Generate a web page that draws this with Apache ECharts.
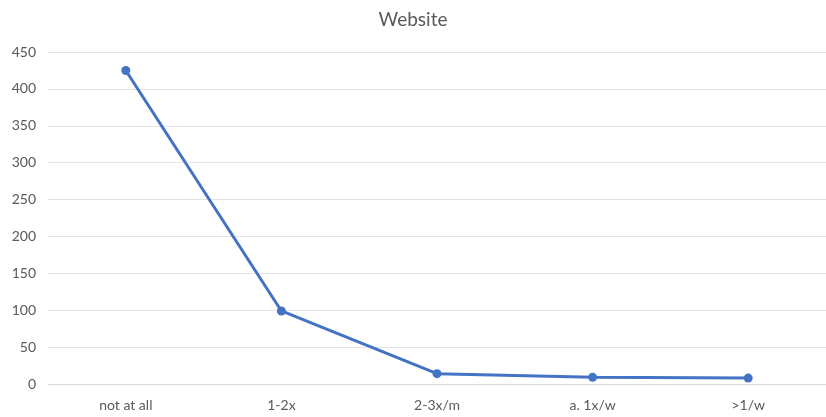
<!DOCTYPE html>
<html>
<head>
<meta charset="utf-8">
<script src="https://cdn.jsdelivr.net/npm/echarts@6/dist/echarts.min.js"></script>
<style>
  html, body { margin: 0; padding: 0; background: #fff; }
  #chart { width: 826px; height: 417px; }
</style>
</head>
<body>
<div id="chart"></div>
<script>
// Visit frequency categories and respondent counts
const categories = ['not at all', '1-2x', '2-3x/m', 'a. 1x/w', '>1/w'];
const websiteCounts = [425, 99, 14, 9, 8];
const yTicks = { min: 0, max: 450, interval: 50 };

const chart = echarts.init(document.getElementById('chart'), null, { renderer: 'canvas' });
const textColor = '#595959';
const fontFamily = 'Lato, "Open Sans", sans-serif';

chart.setOption({
  animation: false,
  backgroundColor: '#ffffff',
  title: {
    text: 'Website',
    left: 'center',
    top: 5,
    textStyle: { color: textColor, fontSize: 19, fontWeight: 'normal', fontFamily: fontFamily }
  },
  grid: { left: 48, right: 0, top: 52, bottom: 33, containLabel: false },
  xAxis: {
    type: 'category',
    data: categories,
    boundaryGap: true,
    axisLine: { show: true, lineStyle: { color: '#d9d9d9', width: 1 } },
    axisTick: { show: false },
    axisLabel: { color: textColor, fontSize: 14, fontFamily: fontFamily, margin: 14 }
  },
  yAxis: {
    type: 'value',
    min: yTicks.min,
    max: yTicks.max,
    interval: yTicks.interval,
    axisLine: { show: false },
    axisTick: { show: false },
    axisLabel: { color: textColor, fontSize: 14, fontFamily: fontFamily, margin: 12 },
    splitLine: { lineStyle: { color: '#e3e3e3', width: 1 } }
  },
  series: [{
    name: 'Website',
    type: 'line',
    data: websiteCounts,
    symbol: 'circle',
    symbolSize: 9,
    lineStyle: { color: '#4472c4', width: 3 },
    itemStyle: { color: '#4472c4' }
  }]
});
</script>
</body>
</html>
